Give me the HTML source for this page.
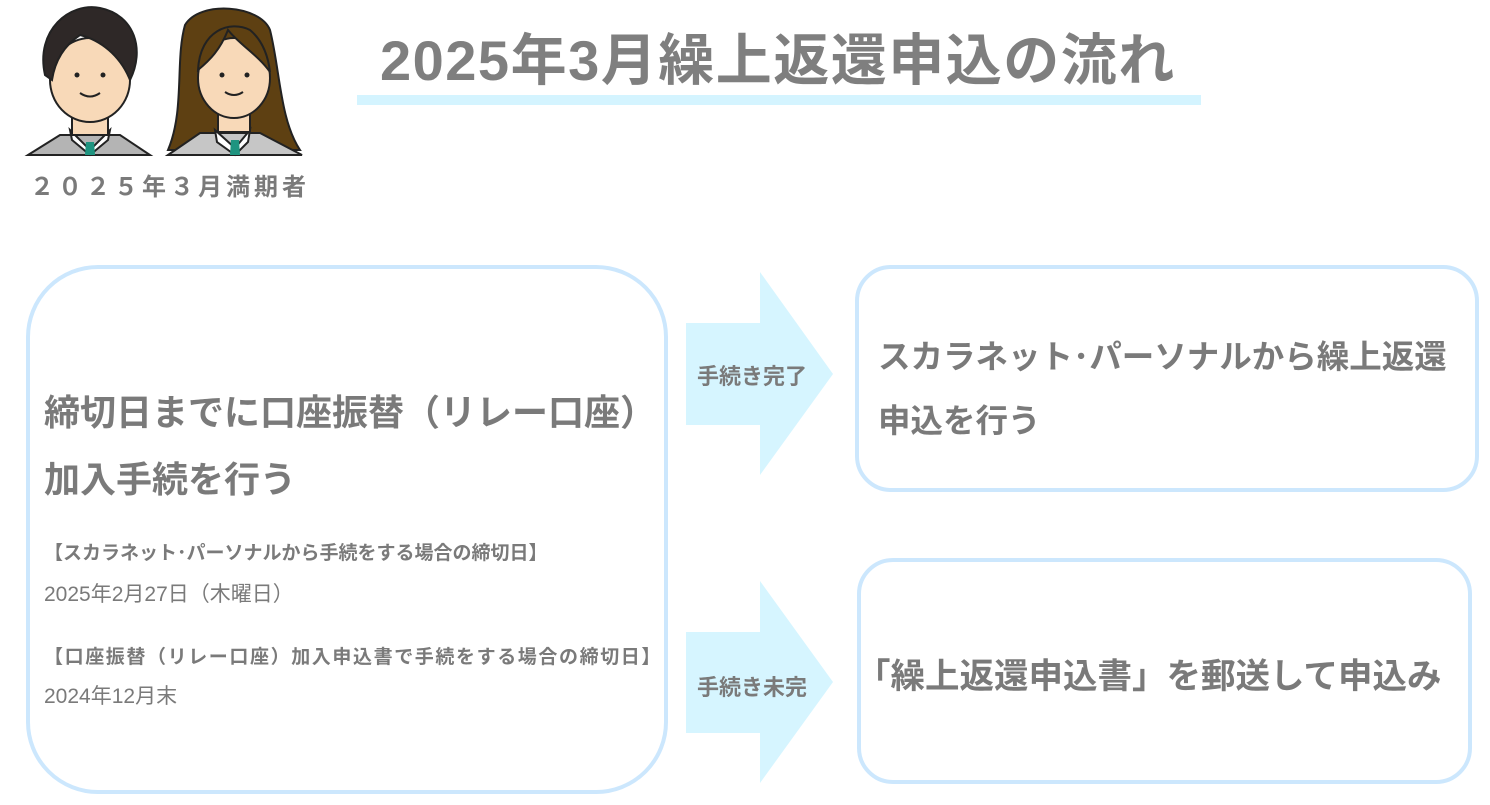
<!DOCTYPE html>
<html><head><meta charset="utf-8">
<style>
body{margin:0;width:1490px;height:805px;background:#fff;position:relative;overflow:hidden;font-family:"Liberation Sans","Noto Sans CJK JP",sans-serif;color:#7a7a7a}
.a{position:absolute;white-space:nowrap}
.box{position:absolute;border:4px solid #cce7fd;box-sizing:border-box}
.b{font-weight:bold}
</style></head><body>
<svg class="a" style="left:0;top:0" width="320" height="160">
 <path d="M28 155 L60 135 L120 135 L150 155Z" fill="#b4b4b4" stroke="#222" stroke-width="2"/>
 <path d="M70 130 L90 150 L110 130 L108 140 L90 155 L72 140Z" fill="#fff" stroke="#222" stroke-width="2"/>
 <path d="M86 142 L94 142 L95 155 L85 155Z" fill="#1f9480"/>
 <rect x="72" y="110" width="36" height="25" fill="#f8d9b8" stroke="#222" stroke-width="2"/>
 <ellipse cx="90" cy="80" rx="40" ry="42" fill="#f8d9b8" stroke="#222" stroke-width="2"/>
 <path d="M45 75 C35 30 70 2 100 8 C135 15 145 50 130 80 C120 55 100 40 80 35 C65 45 55 60 52 80Z" fill="#2e2827" stroke="#222" stroke-width="2"/>
 <circle cx="77" cy="75" r="2.5" fill="#222"/><circle cx="103" cy="75" r="2.5" fill="#222"/>
 <path d="M80 93 Q90 100 100 93" fill="none" stroke="#222" stroke-width="2"/>
 <path d="M185 25 C200 0 260 5 270 30 C280 70 280 120 300 150 L260 150 L200 150 L168 150 C185 110 175 60 185 25Z" fill="#5e4012" stroke="#222" stroke-width="2"/>
 <path d="M168 155 L200 133 L260 133 L302 155Z" fill="#c6c6c6" stroke="#222" stroke-width="2"/>
 <path d="M215 130 L235 148 L250 130 L248 142 L235 155 L217 142Z" fill="#fff" stroke="#222" stroke-width="2"/>
 <path d="M231 140 L239 140 L240 155 L230 155Z" fill="#1f9480"/>
 <rect x="218" y="108" width="32" height="24" fill="#f8d9b8" stroke="#222" stroke-width="2"/>
 <ellipse cx="234" cy="78" rx="36" ry="40" fill="#f8d9b8" stroke="#222" stroke-width="2"/>
 <path d="M198 70 C200 30 230 20 250 30 C262 40 268 55 270 72 C258 55 240 45 228 30 C220 50 210 60 198 70Z" fill="#5e4012" stroke="#222" stroke-width="2"/>
 <circle cx="222" cy="75" r="2.5" fill="#222"/><circle cx="247" cy="75" r="2.5" fill="#222"/>
 <path d="M225 92 Q234 98 243 92" fill="none" stroke="#222" stroke-width="2"/>
</svg>
<div class="a b" style="left:30px;top:167px;font-size:24px;letter-spacing:4px">２０２５年３月満期者</div>

<div class="a" style="left:357px;top:95px;width:844px;height:10px;background:#d4f4ff"></div>
<div class="a b" style="left:380px;top:16px;font-size:56px;letter-spacing:1.5px;color:#7f7f7f">2025年3月繰上返還申込の流れ</div>

<div class="box" style="left:26px;top:265px;width:642px;height:529px;border-radius:72px"></div>
<div class="a b" style="left:44px;top:384px;font-size:36px">締切日までに口座振替（リレー口座）</div>
<div class="a b" style="left:44px;top:451px;font-size:36px">加入手続を行う</div>
<div class="a b" style="left:44px;top:538px;font-size:19px">【スカラネット･パーソナルから手続をする場合の締切日】</div>
<div class="a" style="left:44px;top:578px;font-size:21px">2025年2月27日（木曜日）</div>
<div class="a b" style="left:44px;top:642px;font-size:19px;letter-spacing:1.6px">【口座振替（リレー口座）加入申込書で手続をする場合の締切日】</div>
<div class="a" style="left:44px;top:680px;font-size:21px">2024年12月末</div>

<svg class="a" style="left:680px;top:265px" width="160" height="530">
 <path d="M6 58 H80 V7 L153 109 L80 210 V160 H6Z" fill="#d6f5ff"/>
 <path d="M6 367 H80 V316 L153 417 L80 518 V468 H6Z" fill="#d6f5ff"/>
</svg>
<div class="a b" style="left:697px;top:359px;font-size:22px">手続き完了</div>
<div class="a b" style="left:697px;top:670px;font-size:22px">手続き未完</div>

<div class="box" style="left:855px;top:265px;width:624px;height:227px;border-radius:36px"></div>
<div class="a b" style="left:878px;top:331px;font-size:32.5px">スカラネット･パーソナルから繰上返還</div>
<div class="a b" style="left:878px;top:395px;font-size:32.5px">申込を行う</div>

<div class="box" style="left:857px;top:558px;width:615px;height:226px;border-radius:36px"></div>
<div class="a b" style="left:856px;top:648px;font-size:34.5px">「繰上返還申込書」を郵送して申込み</div>
</body></html>
